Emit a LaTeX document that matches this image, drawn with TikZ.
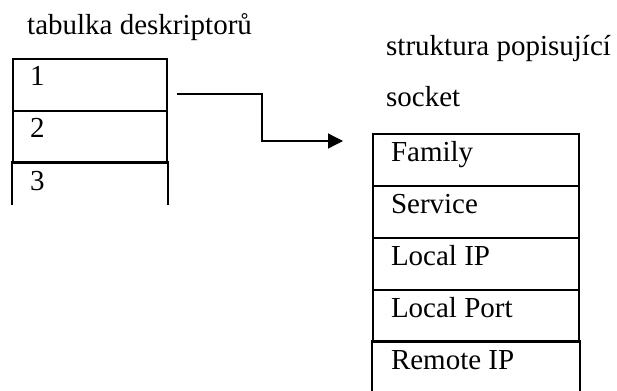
\documentclass[tikz,border=0pt]{standalone}
\usepackage{fontspec}
\setmainfont{Liberation Serif}
\usepackage{tikz}
\usetikzlibrary{arrows.meta, positioning}

\begin{document}
\begin{tikzpicture}[x=1pt, y=-1pt,
				font=\fontsize{29}{35}\selectfont,
				cell/.style={draw, line width=2pt, anchor=north west,
					minimum width=154pt, inner xsep=15pt, inner ysep=7pt,
					text width=120pt, align=flush left,
					text height=20pt, text depth=18pt},
				wcell/.style={cell, minimum width=206pt, text width=170pt},
				opencell/.style={draw=none},
				caption/.style={anchor=base west, inner sep=0pt},
				ptrarrow/.style={-{Triangle[length=15pt, width=15pt]},
					line width=1.3pt, black}]
				\useasboundingbox (0,0) rectangle (617,390);
				% tabulka deskriptoru
				\node[caption] at (27,35) (tabtitle) {tabulka deskriptorů};
				\node[cell] at (12,58) (d1) {1};
				\node[cell] at (12,110) (d2) {2};
				\node[cell, opencell, text depth=7pt] at (12,162) (d3) {3};
				\draw[line width=2pt] (d3.south west) -- (d3.north west)
					-- (d3.north east) -- (d3.south east);
				% struktura socketu
				\node[caption] at (386,56) (socktitle) {struktura popisující};
				\node[caption] at (386,107) (socktitle2) {socket};
				\node[wcell] at (372,133) (s1) {Family};
				\node[wcell] at (372,185) (s2) {Service};
				\node[wcell] at (372,237) (s3) {Local IP};
				\node[wcell] at (372,289) (s4) {Local Port};
				\node[wcell, opencell, text depth=15pt] at (372,341) (s5) {Remote IP};
				\draw[line width=2pt] (s5.south west) -- (s5.north west)
					-- (s5.north east) -- (s5.south east);
				% ukazatel
				\coordinate (ptr) at ([xshift=9pt, yshift=-9pt]d1.east);
				\coordinate (tgt) at ([xshift=-29pt]s1.west |- 0,141);
				\draw[ptrarrow] (ptr) -- ++(85,0) |- (tgt);
			\end{tikzpicture}
\end{document}
